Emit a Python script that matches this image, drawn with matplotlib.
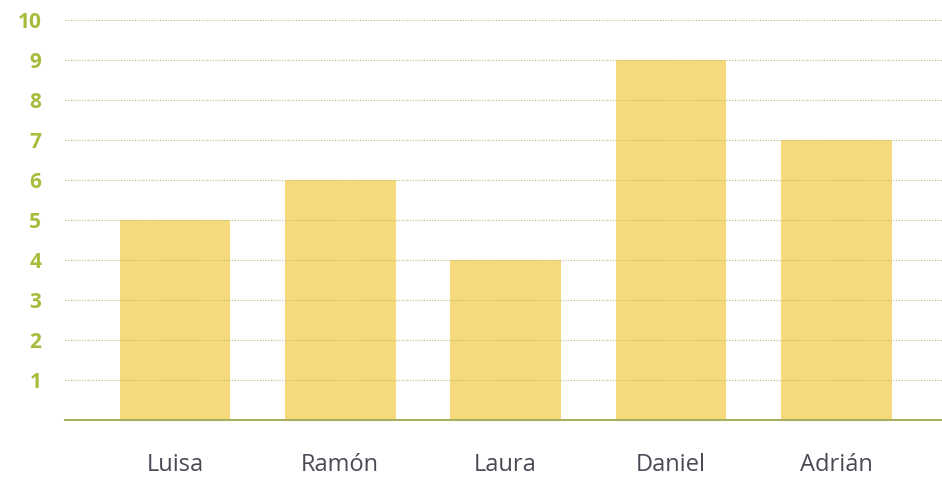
import matplotlib
matplotlib.use("Agg")
import matplotlib.pyplot as plt

names = ["Luisa", "Ramón", "Laura", "Daniel", "Adrián"]
values = [5, 6, 4, 9, 7]
yticks = [1, 2, 3, 4, 5, 6, 7, 8, 9, 10]

fig = plt.figure(figsize=(9.42, 4.82), dpi=100)
ax = fig.add_axes([0.069, 0.1286, 0.931, 0.83])
x = list(range(len(names)))
ax.bar(x, values, width=0.67, color="#f6d97a", zorder=1)
ax.set_ylim(0, 10)
ax.set_xlim(-0.665, 4.64)
for y in yticks:
    ax.axhline(y, color="#b8bf7a", linestyle=(0, (1, 1.5)), linewidth=0.8, zorder=2)
for s in ["top", "right", "left"]:
    ax.spines[s].set_visible(False)
ax.spines["bottom"].set_color("#a8b060")
ax.spines["bottom"].set_linewidth(1.5)
ax.set_yticks(yticks)
ax.set_yticklabels([str(v) for v in yticks], color="#a8bc3c", fontweight="bold",
                   fontsize=15, family="Open Sans")
ax.set_xticks(x)
ax.set_xticklabels(names, color="#4a4a55", fontsize=17, family="Open Sans")
ax.tick_params(axis="y", length=0, pad=17)
ax.tick_params(axis="x", length=0, pad=24)
fig.savefig("out.png", dpi=100)
